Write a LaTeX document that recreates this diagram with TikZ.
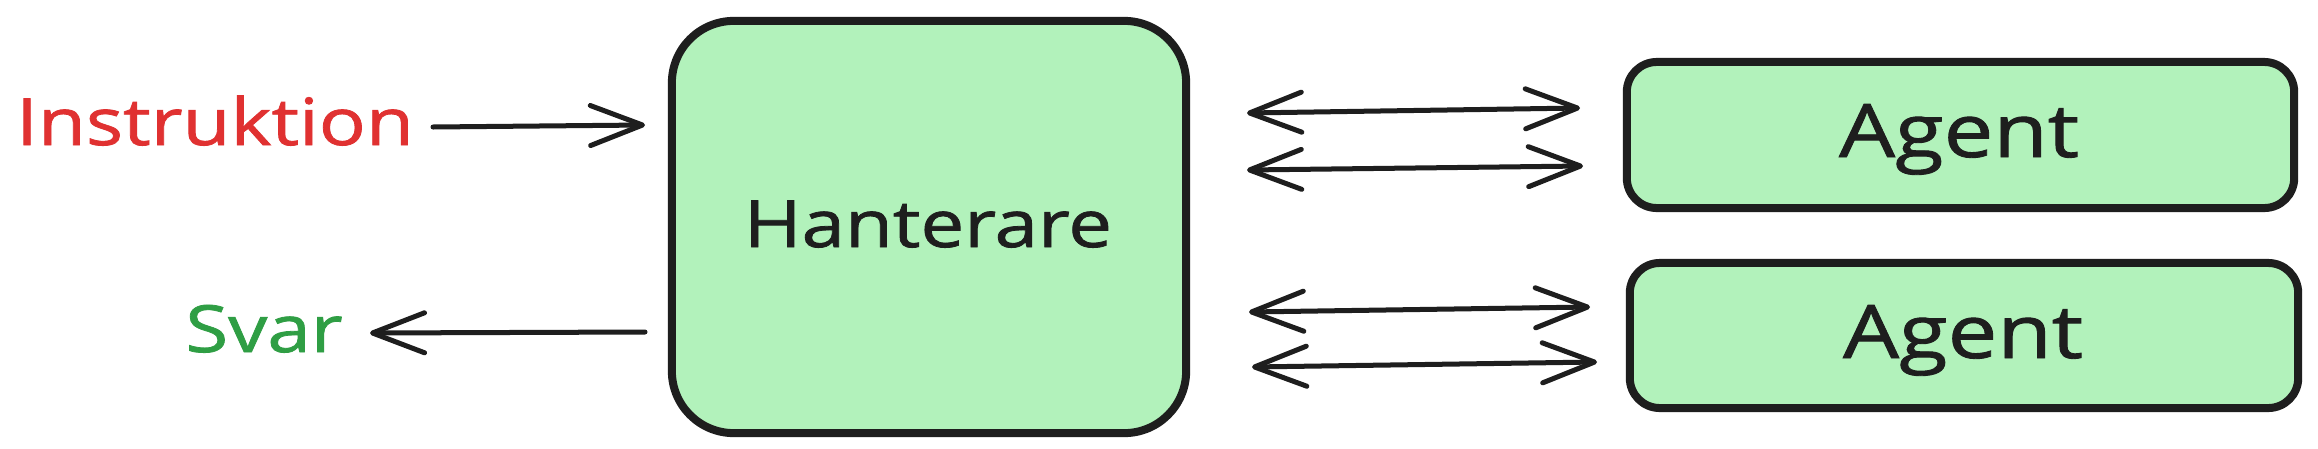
\documentclass[tikz,border=0pt]{standalone}
\usepackage{fontspec}
\usetikzlibrary{arrows.meta}
\newfontfamily\hand{Open Sans}[FakeStretch=1.2,FakeBold=1.2]
\definecolor{boxfill}{HTML}{B2F2BB}
\definecolor{ink}{HTML}{1E1E1E}
\definecolor{redtxt}{HTML}{E03131}
\definecolor{greentxt}{HTML}{2F9E44}
\begin{document}
\begin{tikzpicture}[x=0.01cm,y=-0.01cm,
  bigbox/.style={draw=ink,fill=boxfill,line width=0.08cm,rounded corners=0.62cm,inner sep=0pt},
  agentbox/.style={draw=ink,fill=boxfill,line width=0.08cm,rounded corners=0.3cm,inner sep=0pt},
  lbl/.style={font=\hand\fontsize{18.5pt}{22pt}\selectfont,anchor=base,inner sep=0pt},
  agentlbl/.style={font=\hand\fontsize{21pt}{25pt}\selectfont,anchor=base,inner sep=0pt,text=ink},
  conn/.style={draw=ink,line width=0.05cm,line cap=round,line join=round},
  tip/.style={-{Straight Barb[length=0.52cm,width=0.40cm,line cap=round,line join=round]}},
  tips/.style={{Straight Barb[length=0.52cm,width=0.40cm,line cap=round,line join=round]}-{Straight Barb[length=0.52cm,width=0.40cm,line cap=round,line join=round]}}
]
\useasboundingbox[fill=white] (0,0) rectangle (2318,448);

% boxes
\node[bigbox,minimum width=5.14cm,minimum height=4.12cm] (H) at (929,227) {};
\node[agentbox,minimum width=6.67cm,minimum height=1.46cm] (A1) at (1960.5,135) {};
\node[agentbox,minimum width=6.68cm,minimum height=1.45cm] (A2) at (1964,335.5) {};

% labels
\node[lbl,text=redtxt] (ins) at (215,145) {Instruktion};
\node[lbl,text=greentxt] (svar) at (264,352) {Svar};
\node[lbl,text=ink] (hl) at (928,247) {Hanterare};
\node[agentlbl] (a1l) at (1959,157) {Agent};
\node[agentlbl] (a2l) at (1963,358) {Agent};

% connector end points
\coordinate (insS) at (433,127);
\coordinate (insE) at (645,125);
\coordinate (svS) at (645,332);
\coordinate (svE) at (370,333);
\coordinate (r1L) at (1247,113); \coordinate (r1R) at (1580,108);
\coordinate (r2L) at (1247,170); \coordinate (r2R) at (1583,166);
\coordinate (r3L) at (1249,312); \coordinate (r3R) at (1590,307);
\coordinate (r4L) at (1252,367); \coordinate (r4R) at (1597,362);

\draw[conn,tip] (insS) -- (insE);
\draw[conn,tip] (svS) -- (svE);
\draw[conn,tips] (r1L) -- (r1R);
\draw[conn,tips] (r2L) -- (r2R);
\draw[conn,tips] (r3L) -- (r3R);
\draw[conn,tips] (r4L) -- (r4R);
\end{tikzpicture}
\end{document}
